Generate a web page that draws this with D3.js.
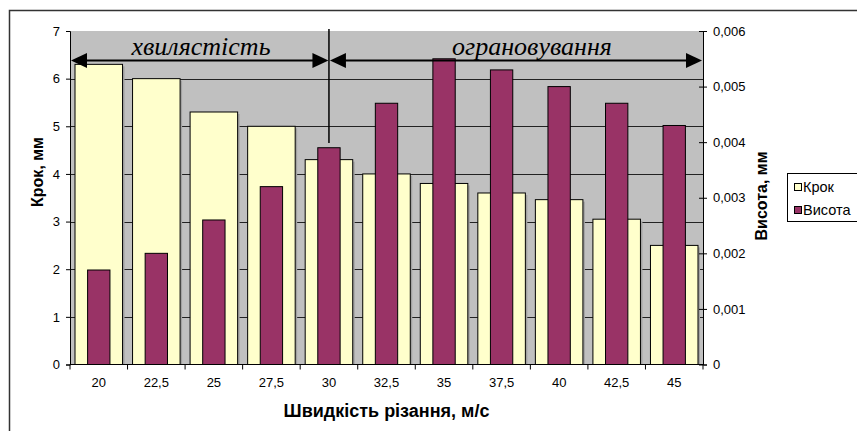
<!DOCTYPE html>
<html>
<head>
<meta charset="utf-8">
<script src="https://cdn.jsdelivr.net/npm/d3@7/dist/d3.min.js"></script>
<style>
  html, body { margin: 0; padding: 0; background: #fff; }
  svg { display: block; font-family: "Liberation Sans", Arial, sans-serif; }
  .zone { font-family: "Liberation Serif", "Times New Roman", serif; font-style: italic; }
</style>
</head>
<body>
<svg id="chart" width="857" height="431"></svg>
<script>
// Cutting speed, m/s
const speeds = ["20", "22,5", "25", "27,5", "30", "32,5", "35", "37,5", "40", "42,5", "45"];
// Step (Крок), mm — left axis
const krok = [6.3, 6.0, 5.3, 5.0, 4.3, 4.0, 3.8, 3.6, 3.46, 3.05, 2.5];
// Height (Висота), mm — right axis
const vysota = [0.0017, 0.002, 0.0026, 0.0032, 0.0039, 0.0047, 0.0055, 0.0053, 0.005, 0.0047, 0.0043];
const leftTicks = [0, 1, 2, 3, 4, 5, 6, 7];
const rightTicks = [0, 0.001, 0.002, 0.003, 0.004, 0.005, 0.006];
const seriesNames = ["Крок", "Висота"];
const zoneLabels = ["хвилястість", "ограновування"];
const zoneBoundary = "30";

const svg = d3.select("#chart");
const plot = { left: 70, right: 703, top: 31, bottom: 364.5 };

// outer chart frame
svg.append("rect")
  .attr("x", 9.5).attr("y", 10.5).attr("width", 900).attr("height", 500)
  .attr("fill", "#fff").attr("stroke", "#333").attr("stroke-width", 1.5);

const x = d3.scaleBand().domain(speeds).range([plot.left, plot.right])
  .paddingInner(0.174).paddingOuter(0.087);
const yL = d3.scaleLinear().domain([0, 7]).range([plot.bottom, plot.top]);
const yR = d3.scaleLinear().domain([0, 0.006]).range([plot.bottom, plot.top]);

// plot background
svg.append("rect")
  .attr("x", plot.left).attr("y", plot.top)
  .attr("width", plot.right - plot.left).attr("height", plot.bottom - plot.top)
  .attr("fill", "#c0c0c0");

// horizontal gridlines
svg.append("g").selectAll("line").data(leftTicks.slice(1, -1)).join("line")
  .attr("x1", plot.left).attr("x2", plot.right)
  .attr("y1", d => Math.round(yL(d)) + 0.5).attr("y2", d => Math.round(yL(d)) + 0.5)
  .attr("stroke", "#222").attr("stroke-width", 1);

// step bars (wide, behind) with a small shadow
const bars = svg.append("g");
bars.selectAll("rect.sh").data(krok).join("rect").attr("class", "sh")
  .attr("x", (d, i) => x(speeds[i]) + 2).attr("y", d => yL(d) + 2)
  .attr("width", x.bandwidth()).attr("height", d => plot.bottom - yL(d) - 2)
  .attr("fill", "#a2a2a2");
bars.selectAll("rect.k").data(krok).join("rect").attr("class", "k")
  .attr("x", (d, i) => x(speeds[i])).attr("y", d => yL(d))
  .attr("width", x.bandwidth()).attr("height", d => plot.bottom - yL(d))
  .attr("fill", "#ffffcc").attr("stroke", "#000").attr("stroke-width", 1);

// height bars (narrow, on top)
const vw = x.bandwidth() * 0.47;
bars.selectAll("rect.v").data(vysota).join("rect").attr("class", "v")
  .attr("x", (d, i) => x(speeds[i]) + (x.bandwidth() - vw) / 2).attr("y", d => yR(d))
  .attr("width", vw).attr("height", d => plot.bottom - yR(d))
  .attr("fill", "#993366").attr("stroke", "#000").attr("stroke-width", 1);

// axes
const axL = svg.append("g").attr("transform", `translate(${plot.left},0)`)
  .call(d3.axisLeft(yL).tickValues(leftTicks).tickSize(4).tickPadding(6).tickFormat(d3.format("d")));
const axR = svg.append("g").attr("transform", `translate(${plot.right},0)`)
  .call(d3.axisRight(yR).tickValues(rightTicks).tickSize(4).tickPadding(6)
    .tickFormat(d => d === 0 ? "0" : d3.format(".3f")(d).replace(".", ",")));
axR.selectAll(".tick line").attr("x1", -4);
const axB = svg.append("g").attr("transform", `translate(0,${plot.bottom})`)
  .call(d3.axisBottom(x).tickSize(0).tickPadding(13));
// category boundary ticks
const bounds = d3.range(speeds.length + 1).map(i => plot.left + i * x.step());
svg.append("g").selectAll("line").data(bounds).join("line")
  .attr("x1", d => d).attr("x2", d => d)
  .attr("y1", plot.bottom).attr("y2", plot.bottom + 5)
  .attr("stroke", "#000");
[axL, axR, axB].forEach(a => {
  a.attr("font-family", null);
  a.selectAll(".domain").attr("stroke", "#000");
  a.selectAll(".tick line").attr("stroke", "#000");
  a.selectAll("text").attr("font-size", 13).attr("fill", "#000");
});
axB.select(".domain").attr("d", `M${plot.left},0H${plot.right}`);

// axis titles
svg.append("text").attr("transform", "translate(43,172) rotate(-90)")
  .attr("text-anchor", "middle").attr("font-weight", "bold").attr("font-size", 16)
  .text("Крок, мм");
svg.append("text").attr("transform", "translate(767,196) rotate(-90)")
  .attr("text-anchor", "middle").attr("font-weight", "bold").attr("font-size", 16)
  .text("Висота, мм");
svg.append("text").attr("x", (plot.left + plot.right) / 2).attr("y", 417)
  .attr("text-anchor", "middle").attr("font-weight", "bold").attr("font-size", 18)
  .text("Швидкість різання, м/с");

// zone annotations: arrows and divider
const xb = x(zoneBoundary) + x.bandwidth() / 2;
const ay = 60.5;
const ann = svg.append("g");
ann.append("line").attr("x1", xb).attr("x2", xb).attr("y1", 29).attr("y2", 143)
  .attr("stroke", "#000").attr("stroke-width", 1.5);
ann.append("line").attr("x1", plot.left + 14).attr("x2", xb - 14).attr("y1", ay).attr("y2", ay)
  .attr("stroke", "#000").attr("stroke-width", 2);
ann.append("line").attr("x1", xb + 14).attr("x2", plot.right - 15).attr("y1", ay).attr("y2", ay)
  .attr("stroke", "#000").attr("stroke-width", 2);
function head(tipX, dir) {
  const len = 16, hw = 7.5;
  ann.append("path")
    .attr("d", `M${tipX},${ay}L${tipX - dir * len},${ay - hw}L${tipX - dir * len},${ay + hw}Z`)
    .attr("fill", "#000");
}
head(plot.left + 1, -1);
head(xb - 0.5, 1);
head(xb + 1, -1);
head(plot.right - 1, 1);
ann.append("text").attr("class", "zone").attr("x", 201).attr("y", 55)
  .attr("text-anchor", "middle").attr("font-size", 26).text(zoneLabels[0]);
ann.append("text").attr("class", "zone").attr("x", 532).attr("y", 55)
  .attr("text-anchor", "middle").attr("font-size", 26).text(zoneLabels[1]);

// legend
const lg = svg.append("g").attr("transform", "translate(787,173)");
lg.append("rect").attr("x", 0.5).attr("y", 0.5).attr("width", 90).attr("height", 48)
  .attr("fill", "#fff").attr("stroke", "#000");
const colors = ["#ffffcc", "#993366"];
seriesNames.forEach((n, i) => {
  const yy = 14 + i * 23;
  lg.append("rect").attr("x", 7.5).attr("y", yy - 3.5).attr("width", 7).attr("height", 7)
    .attr("fill", colors[i]).attr("stroke", "#000");
  lg.append("text").attr("x", 16).attr("y", yy + 5).attr("font-size", 14.5).text(n);
});
</script>
</body>
</html>
